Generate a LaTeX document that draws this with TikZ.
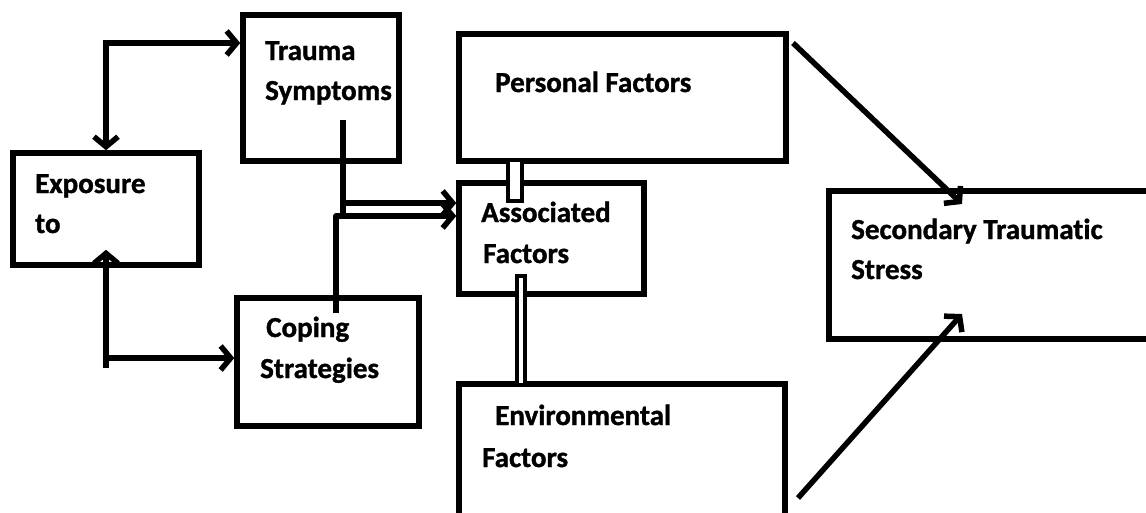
\documentclass[tikz,border=0pt]{standalone}
\usepackage{fontspec}
\setmainfont{Carlito}[Ligatures=NoCommon, BoldFeatures={FakeBold=1.2}]
\usetikzlibrary{arrows.meta}
\tikzset{
  box/.style={draw, line width=5.5pt, rectangle, inner sep=0pt, fill=white},
  lbl/.style={anchor=base west, inner sep=0pt, font=\bfseries\fontsize{29}{40}\selectfont},
  conn/.style={line width=5.5pt, line join=miter},
  arr/.style={conn, -{Straight Barb[length=10pt,width=24pt]}},
  linkbar/.style={draw, line width=4.5pt, fill=white},
}
\begin{document}
\begin{tikzpicture}[x=1pt,y=-1pt]
\useasboundingbox (0,0) rectangle (1146,512);
\clip (0,0) rectangle (1146,512);
% boxes
\node[box, minimum width=186pt, minimum height=112pt] (exp) at (106,209) {};
\node[box, minimum width=156pt, minimum height=146pt] (ts) at (321,88) {};
\node[box, minimum width=182pt, minimum height=128pt] (cs) at (328,362) {};
\node[box, minimum width=327pt, minimum height=127pt] (pf) at (622.5,97.5) {};
\node[box, minimum width=185pt, minimum height=111pt] (af) at (551.5,238.5) {};
\node[box, minimum width=326pt, minimum height=155pt] (env) at (622,461.5) {};
\node[box, minimum width=335pt, minimum height=148pt] (sts) at (996.5,265) {};
% labels
\node[lbl] (expA) at (35,193) {Exposure};
\node[lbl] (expB) at (35,233) {to};
\node[lbl] (tsA) at (265,60) {Trauma};
\node[lbl] (tsB) at (265,100) {Symptoms};
\node[lbl] (csA) at (266,337) {Coping};
\node[lbl] (csB) at (260,378) {Strategies};
\node[lbl] (pfA) at (495,92) {Personal Factors};
\node[lbl] (afA) at (481,222) {Associated};
\node[lbl] (afB) at (483,263) {Factors};
\node[lbl] (envA) at (495,425) {Environmental};
\node[lbl] (envB) at (482,467) {Factors};
\node[lbl] (stsA) at (851,239) {Secondary Traumatic};
\node[lbl] (stsB) at (851,279) {Stress};
% coordinates
\coordinate (c1) at (106,43);
\coordinate (c2) at (106,368);
\coordinate (c3) at (106,358);
\coordinate (t1) at (343,120);
\coordinate (t2) at (343,203);
\coordinate (t3) at (343,218);
\coordinate (k1) at (336,313);
\coordinate (k2) at (336,216);
\coordinate (p1) at (793,43);
\coordinate (s1) at (962,204);
\coordinate (e1) at (798,498);
\coordinate (s2) at (962,314);
% connectors from exposure
\draw[conn, {Straight Barb[length=10pt,width=24pt]}-{Straight Barb[length=10pt,width=24pt]}] (exp.north) -- (c1) -- (c1 -| ts.west);
\draw[arr] (c2) -- ([yshift=18pt]exp.south);
\draw[arr] (c3) -- (c3 -| cs.west);
% trauma / coping to associated
\draw[conn] (t1) -- (t3);
\draw[arr] (t2) -- (t2 -| af.west);
\draw[arr, line join=round] (k1) -- (k2) -- (k2 -| af.west);
% links between factor boxes
\draw[linkbar] (508,160) rectangle (522,201);
\draw[linkbar, line width=4pt] (517,276) rectangle (525,385);
% to secondary traumatic stress
\draw[arr] (p1) -- (s1);
\draw[arr] (e1) -- (s2);
\end{tikzpicture}
\end{document}
